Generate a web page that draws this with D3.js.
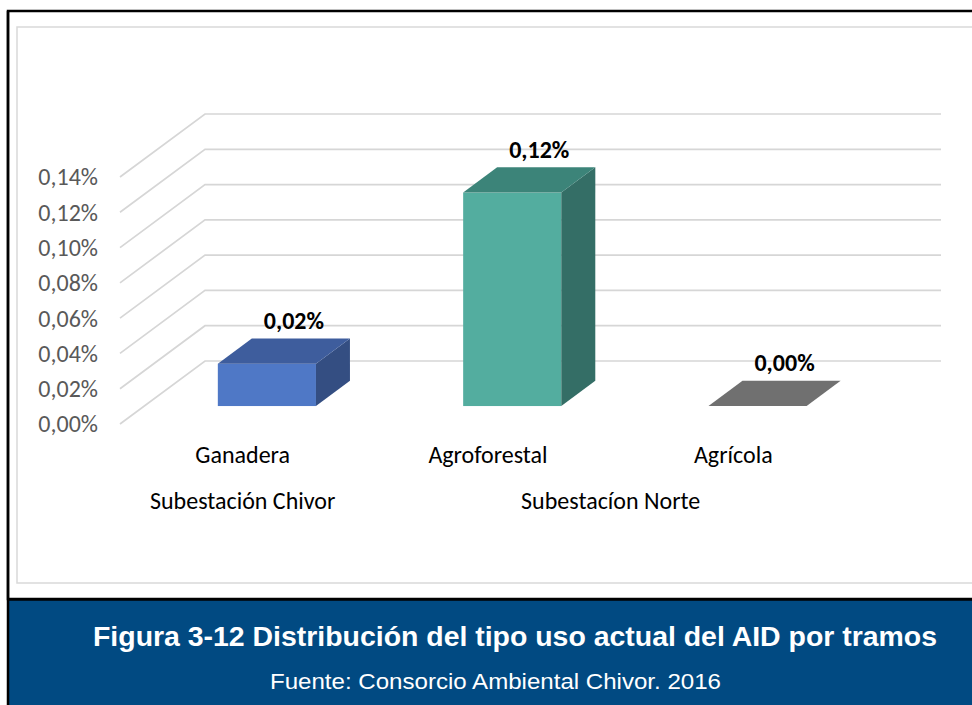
<!DOCTYPE html>
<html>
<head>
<meta charset="utf-8">
<script src="https://cdn.jsdelivr.net/npm/d3@7/dist/d3.min.js"></script>
<style>
  html, body { margin: 0; padding: 0; background: #fff; }
  svg { display: block; }
</style>
</head>
<body>
<svg id="chart" width="972" height="705"></svg>
<script>
// ---- Data ----
const categories = ["Ganadera", "Agroforestal", "Agrícola"];
const values = [0.00024, 0.00121, 0.0];
const valueLabels = ["0,02%", "0,12%", "0,00%"];
const groups = ["Subestación Chivor", "Subestacíon Norte"];
const groupSpans = [["Ganadera"], ["Agroforestal", "Agrícola"]];
const tickValues = [0, 0.0002, 0.0004, 0.0006, 0.0008, 0.0010, 0.0012, 0.0014];
const tickLabels = ["0,00%", "0,02%", "0,04%", "0,06%", "0,08%", "0,10%", "0,12%", "0,14%"];
const title = "Figura 3-12 Distribución del tipo uso actual del AID por tramos";
const source = "Fuente: Consorcio Ambiental Chivor. 2016";

const colors = [
  { front: "#4f78c6", top: "#3e5d9d", side: "#344e82" },
  { front: "#53ad9f", top: "#3c8479", side: "#346e66" },
  { front: "#707070", top: "#707070", side: "#606060" }
];

// ---- Layout ----
const svg = d3.select("#chart");
const W = 972, H = 705;
const fontChart = "Carlito, Lato, 'Open Sans', sans-serif";
const fontCaption = "'Liberation Sans', Arial, sans-serif";
const FS = 24;

// outer black frame
svg.append("rect").attr("x", 8).attr("y", 11).attr("width", W + 20).attr("height", 588)
  .attr("fill", "#fff").attr("stroke", "#000").attr("stroke-width", 2.5);
// inner chart area border
svg.append("rect").attr("x", 17).attr("y", 27).attr("width", W + 20).attr("height", 556)
  .attr("fill", "#fff").attr("stroke", "#d9d9d9").attr("stroke-width", 1.5);
// caption band
svg.append("rect").attr("x", 8).attr("y", 600).attr("width", W).attr("height", 110)
  .attr("fill", "#014a82");
svg.append("line").attr("x1", 8).attr("x2", 8).attr("y1", 11).attr("y2", H)
  .attr("stroke", "#000").attr("stroke-width", 2.5);
svg.append("line").attr("x1", 8).attr("x2", W).attr("y1", 599.5).attr("y2", 599.5)
  .attr("stroke", "#000").attr("stroke-width", 2.5);

// 3D projection parameters
const DX = 85, DY = -63;        // floor depth offset
const F0 = 0.285, FD = 0.4;     // bar depth start fraction & depth fraction

const y = d3.scaleLinear().domain([0, 0.0014]).range([424, 177]);
const x = d3.scaleBand().domain(categories).range([120, 856]).paddingInner(0).paddingOuter(0);
const bandW = x.bandwidth();
const barW = bandW * 0.4;

// gridlines (side wall + back wall)
const grid = svg.append("g");
tickValues.forEach(t => {
  const yf = y(t);
  grid.append("path")
    .attr("d", `M${x.range()[0]},${yf} L${x.range()[0] + DX},${yf + DY} L${x.range()[1] + DX},${yf + DY}`)
    .attr("fill", "none").attr("stroke", "#d6d6d6").attr("stroke-width", 1.7);
});

// tick labels
svg.append("g").selectAll("text").data(tickValues).join("text")
  .attr("x", 98).attr("y", d => y(d)).attr("dy", "0.35em")
  .attr("text-anchor", "end")
  .attr("font-family", fontChart).attr("font-size", FS).attr("fill", "#595959")
  .text((d, i) => tickLabels[i]);

// bars
const bars = svg.append("g");
categories.forEach((c, i) => {
  const v = values[i];
  const ox = F0 * DX, oy = F0 * DY;
  const ddx = FD * DX, ddy = FD * DY;
  const xl = x(c) + (bandW - barW) / 2 + ox;
  const xr = xl + barW;
  const yb = y(0) + oy;
  const yt = y(v) + oy;
  const col = colors[i];
  if (yb - yt > 0.5) {
    bars.append("rect").attr("x", xl).attr("y", yt).attr("width", barW).attr("height", yb - yt)
      .attr("fill", col.front);
    bars.append("path")
      .attr("d", `M${xr},${yt} L${xr + ddx},${yt + ddy} L${xr + ddx},${yb + ddy} L${xr},${yb} Z`)
      .attr("fill", col.side);
  }
  bars.append("path")
    .attr("d", `M${xl},${yt} L${xl + ddx},${yt + ddy} L${xr + ddx},${yt + ddy} L${xr},${yt} Z`)
    .attr("fill", col.top);
  // value label
  svg.append("text")
    .attr("x", xl + barW / 2 + 27).attr("y", yt + ddy - 18).attr("dy", "0.35em")
    .attr("text-anchor", "middle")
    .attr("font-family", fontChart).attr("font-size", FS).attr("font-weight", "bold")
    .attr("fill", "#000")
    .text(valueLabels[i]);
});

// category labels
svg.append("g").selectAll("text").data(categories).join("text")
  .attr("x", d => x(d) + bandW / 2).attr("y", 455).attr("dy", "0.35em")
  .attr("text-anchor", "middle")
  .attr("font-family", fontChart).attr("font-size", FS).attr("fill", "#000")
  .text(d => d);

// group labels
svg.append("g").selectAll("text").data(groups).join("text")
  .attr("x", (d, i) => {
    const s = groupSpans[i];
    return (x(s[0]) + x(s[s.length - 1]) + bandW) / 2;
  })
  .attr("y", 501).attr("dy", "0.35em")
  .attr("text-anchor", "middle")
  .attr("font-family", fontChart).attr("font-size", FS).attr("fill", "#000")
  .text(d => d);

// caption
svg.append("text").attr("x", 515).attr("y", 646).attr("text-anchor", "middle")
  .attr("font-family", fontCaption).attr("font-size", 28).attr("font-weight", "bold")
  .attr("fill", "#fff").attr("textLength", 844).attr("lengthAdjust", "spacingAndGlyphs")
  .text(title);
svg.append("text").attr("x", 495.5).attr("y", 689).attr("text-anchor", "middle")
  .attr("font-family", fontCaption).attr("font-size", 21.5)
  .attr("fill", "#fff").attr("textLength", 451).attr("lengthAdjust", "spacingAndGlyphs")
  .text(source);
</script>
</body>
</html>
